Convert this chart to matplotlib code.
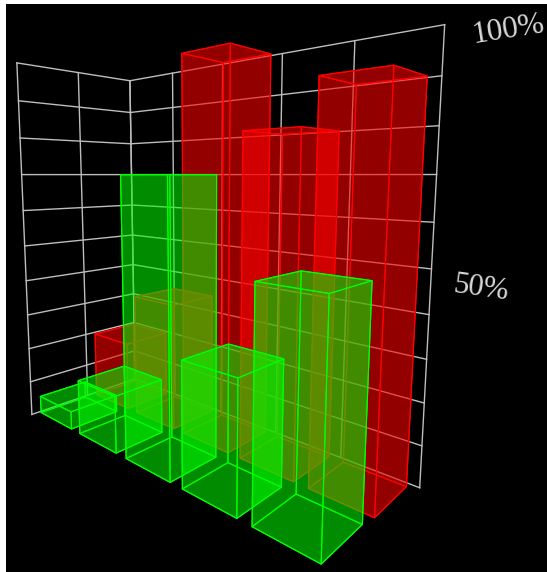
import matplotlib
matplotlib.use("Agg")
import numpy as np
import matplotlib.pyplot as plt
from matplotlib.patches import Rectangle

# values (percent), one list per row of bars
columns = [0, 1, 2, 3, 4]
red_values = [20, 35, 100, 80, 90]
green_values = [5, 15, 70, 30, 50]
grid_levels = list(range(0, 101, 10))
grid_columns = [0, 1, 2, 3, 4, 5]
grid_rows = [0, 1, 2]

W, H = 547, 572
fig = plt.figure(figsize=(W/100, H/100), dpi=100, facecolor="white")

# black picture area, white strip left and top
fig.patches.append(Rectangle((6/W, 0), 1-6/W, 1-4/H, transform=fig.transFigure,
                             facecolor="black", edgecolor="none", zorder=-1))

# axes bigger than the figure so the nearest bar is not clipped
S = 729
ax = fig.add_axes([-169.3/W, -50.3/H, S/W, S/H], projection="3d")
ax.set_proj_type("persp", focal_length=0.141)
ax.computed_zorder = False
ax.set_axis_off()
ax.patch.set_visible(False)

# back walls
grid_col = "#bdbdbd"
for z in grid_levels:
    ax.plot([0, 0], [0, 5], [z, z], color=grid_col, lw=1, zorder=1)
    ax.plot([0, 2], [0, 0], [z, z], color=grid_col, lw=1, zorder=1)
for y in grid_columns:
    ax.plot([0, 0], [y, y], [0, 100], color=grid_col, lw=1, zorder=1)
for x in grid_rows:
    ax.plot([x, x], [0, 0], [0, 100], color=grid_col, lw=1, zorder=1)

n = len(columns)
red_y = [c + 0.08 for c in columns]
green_y = [c + 0.04 for c in columns]
ax.bar3d([0.08]*n, red_y, [0]*n, 0.8, 0.8, red_values, color=(1, 0, 0, 0.35),
         edgecolor=(1, 0, 0, 1), linewidth=0.8, shade=False, zorder=2)
ax.bar3d([1.07]*n, green_y, [0]*n, 0.8, 0.8, green_values, color=(0, 1, 0, 0.33),
         edgecolor=(0, 1, 0, 1), linewidth=0.8, shade=False, zorder=3)

ax.set_xlim(0, 2.035)
ax.set_ylim(0.0832, 5.1282)
ax.set_zlim(2.2, 102.2)
ax.set_box_aspect((0.4, 1, 1), zoom=0.8)
ax.view_init(elev=7.5, azim=42.9)

fig.text(508/W, 1-30/H, "100%", color="#d8d8d8", family="Liberation Serif", fontsize=22.5,
         rotation=9, ha="center", va="center")
fig.text(481/W, 1-288/H, "50%", color="#d8d8d8", family="Liberation Serif", fontsize=22,
         rotation=-8, ha="center", va="center")

fig.savefig("out.png", dpi=100, facecolor="white")
